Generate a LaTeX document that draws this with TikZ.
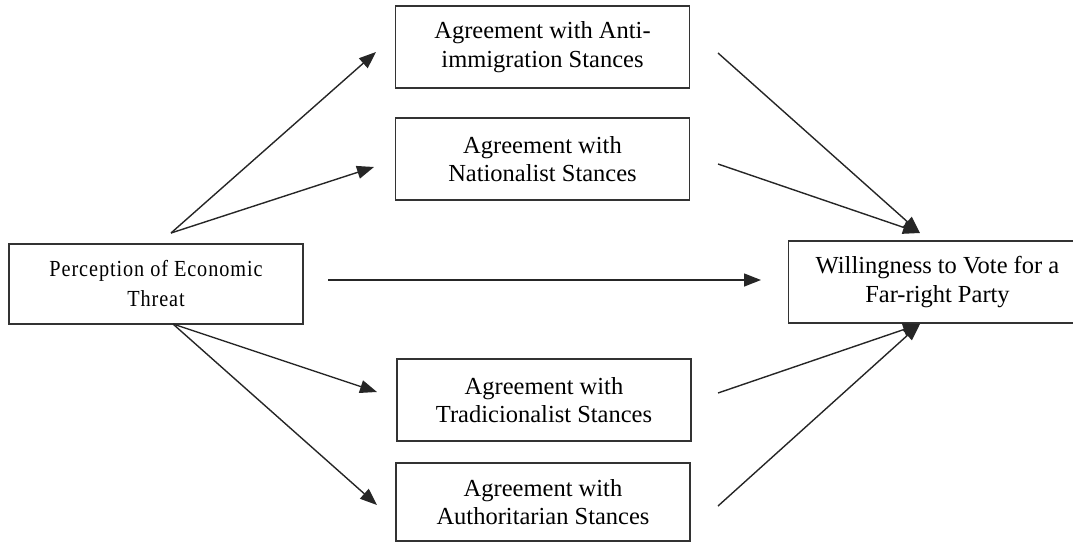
\documentclass[tikz,border=0pt]{standalone}
\usepackage{fontspec}
\setmainfont{Liberation Serif}
\newfontfamily\narrowserif[FakeStretch=0.88,LetterSpace=4]{Liberation Serif}
\usetikzlibrary{arrows.meta}
\tikzset{
  box/.style={draw=black!80, line width=1.6pt, fill=white, align=center,
    minimum width=294pt, minimum height=82pt, inner sep=0pt,
    font=\fontsize{24.5pt}{28.5pt}\selectfont},
  conn/.style={draw=black!85, line width=1.4pt,
    -{Triangle[length=17pt,width=13pt]}}
}
\begin{document}
\begin{tikzpicture}[x=1pt,y=-1pt]
\useasboundingbox (0,0) rectangle (1073,542);
% nodes
\node[box, minimum height=80pt, font=\narrowserif\fontsize{23pt}{30pt}\selectfont] (pet) at (156,284) {Perception of Economic\\Threat};
\node[box] (anti) at (542.5,47) {Agreement with Anti-\\immigration Stances};
\node[box] (nat) at (542.5,159) {Agreement with\\Nationalist Stances};
\node[box] (trad) at (544,400) {Agreement with\\Tradicionalist Stances};
\node[box, minimum height=78pt] (auth) at (543,502) {Agreement with\\Authoritarian Stances};
\node[box, minimum width=298pt] (will) at (937.5,282) {Willingness to Vote for a\\Far-right Party};
% free ends of connectors
\coordinate (sTop) at (171,233);
\coordinate (sBot) at (173,324);
\coordinate (tAnti) at (376,52);
\coordinate (tNat) at (374,167);
\coordinate (tTrad) at (377,392);
\coordinate (tAuth) at (377,505);
\coordinate (sMid) at (328,280);
\coordinate (tMid) at (761,280);
\coordinate (oAnti) at (718,53);
\coordinate (oNat) at (718,164);
\coordinate (oTrad) at (718,393);
\coordinate (oAuth) at (718,506);
\coordinate (tWillTop) at (920,233);
\coordinate (tWillBot) at (920,324);
% connectors
\draw[conn] (sTop) -- (tAnti);
\draw[conn] (sTop) -- (tNat);
\draw[conn] (sBot) -- (tTrad);
\draw[conn] (sBot) -- (tAuth);
\draw[conn] (sMid) -- (tMid);
\draw[conn] (oAnti) -- (tWillTop);
\draw[conn] (oNat) -- (tWillTop);
\draw[conn] (oTrad) -- (tWillBot);
\draw[conn] (oAuth) -- (tWillBot);
\end{tikzpicture}
\end{document}
